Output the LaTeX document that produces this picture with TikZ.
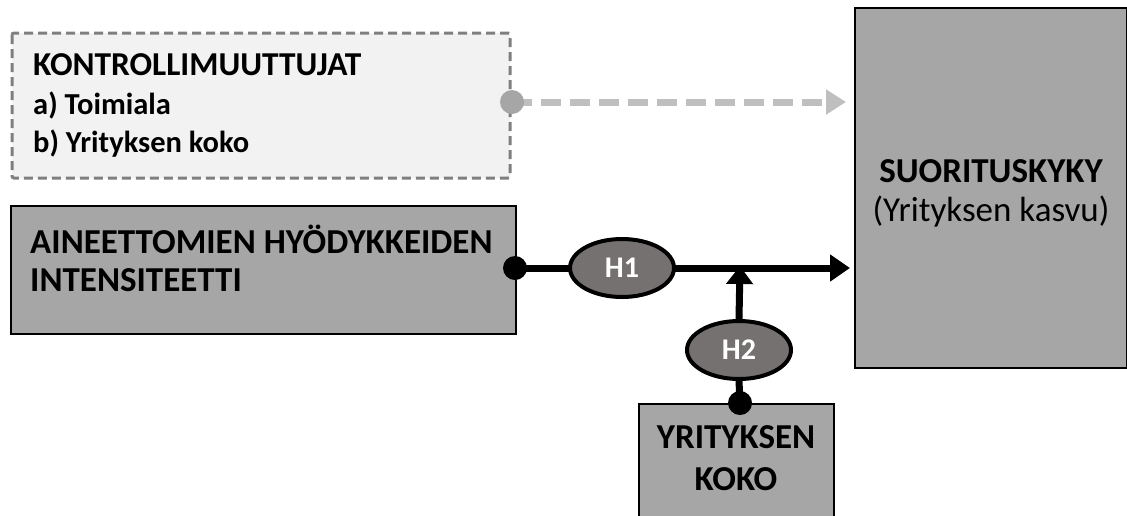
\documentclass[tikz,border=0pt]{standalone}
\usepackage{fontspec}
\setmainfont{Carlito}
\usetikzlibrary{arrows.meta,shapes.geometric}
\definecolor{boxgray}{HTML}{A6A6A6}
\definecolor{ctrlfill}{HTML}{F2F2F2}
\definecolor{ctrlline}{HTML}{7F7F7F}
\definecolor{ctrlarrow}{HTML}{BFBFBF}
\definecolor{hyp}{HTML}{767171}
\tikzset{
  graybox/.style={draw=black,line width=2pt,fill=boxgray,inner sep=0pt},
  hypnode/.style={ellipse,draw=black,line width=4pt,fill=hyp,text=white,font=\bfseries\fontsize{30}{34}\selectfont,minimum width=104pt,minimum height=58pt,inner sep=0pt},
  conn/.style={line width=7pt,-{Triangle[length=20pt,width=26pt]}},
  dotblack/.style={circle,fill=black,minimum size=24pt,inner sep=0pt},
  txt/.style={font=\fontsize{35}{40}\selectfont,inner sep=0pt},
  btxt/.style={font=\bfseries\fontsize{35}{40}\selectfont,inner sep=0pt},
  ctxt/.style={font=\bfseries\fontsize{30.5}{36}\selectfont,inner sep=0pt,anchor=base west}
}
\begin{document}
\begin{tikzpicture}[x=1pt,y=-1pt]
\useasboundingbox (0,0) rectangle (1127,515);
% control box
\draw[draw=ctrlline,fill=ctrlfill,line width=3pt,dash pattern=on 9pt off 5pt,rounded corners=2pt] (12,33) rectangle (510,178);
\node[ctxt,font=\bfseries\fontsize{33.4}{38}\selectfont] (k1) at (33,75) {KONTROLLIMUUTTUJAT};
\node[ctxt] (k2) at (33,114) {a) Toimiala};
\node[ctxt] (k3) at (33,152) {b) Yrityksen koko};
% performance box
\node[graybox,minimum width=272pt,minimum height=360pt,anchor=north west] (perf) at (854,7) {};
\node[btxt,anchor=base] (p1) at (991,182) {SUORITUSKYKY};
\node[txt,anchor=base] (p2) at (991,221) {(Yrityksen kasvu)};
% intangible box
\node[graybox,minimum width=505pt,minimum height=128pt,anchor=north west] (int) at (10,205) {};
\node[btxt,anchor=base west] (i1) at (30,253) {AINEETTOMIEN HYÖDYKKEIDEN};
\node[btxt,anchor=base west] (i2) at (30,291) {INTENSITEETTI};
% size box
\node[graybox,minimum width=195pt,minimum height=115pt,anchor=north west] (size) at (638,403) {};
\node[btxt,anchor=base] (s1) at (736,448) {YRITYKSEN};
\node[btxt,anchor=base] (s2) at (736,490) {KOKO};
% control arrow
\coordinate (cstart) at (512,102);
\coordinate (cend) at (846,102);
\draw[ctrlarrow,line width=7pt,dash pattern=on 20pt off 9pt,-{Triangle[length=20pt,width=24pt]}] (cstart) -- (cend);
\node[circle,fill=boxgray,minimum size=24pt,inner sep=0pt] (cdot) at (cstart) {};
% main path
\coordinate (mstart) at (515,268);
\coordinate (mend) at (850,268);
\coordinate (mjoin) at (740,268);
\draw[conn] (mstart) -- (mend);
\node[dotblack] (mdot) at (mstart) {};
\node[hypnode] (h1) at (622,268) {H1};
% H2
\coordinate (sdot) at (740,403);
\node[hypnode] (h2) at (739,350) {H2};
\draw[line width=7pt] (sdot) -- (h2.south);
\draw[line width=7pt,-{Triangle[length=18pt,width=26pt]}] (h2.north) -- ([yshift=2pt]mjoin);
\node[dotblack] (sd) at (sdot) {};
\end{tikzpicture}
\end{document}
